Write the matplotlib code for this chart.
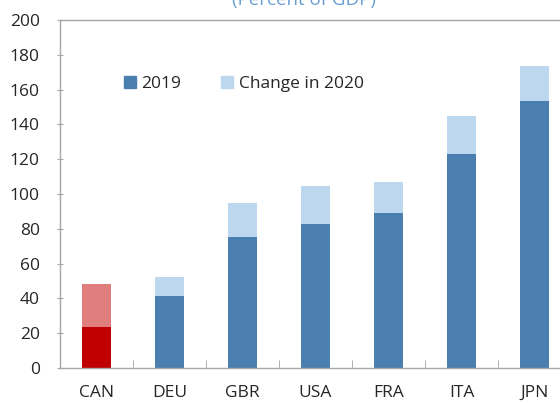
import matplotlib.pyplot as plt
import numpy as np

countries = ["CAN", "DEU", "GBR", "USA", "FRA", "ITA", "JPN"]
debt_2019 = [23.4, 41.4, 75.3, 82.8, 89.1, 123.0, 153.3]
total_2020 = [48.3, 52.1, 94.6, 104.6, 106.7, 144.8, 173.7]
change_2020 = [t - b for t, b in zip(total_2020, debt_2019)]
yticks = list(range(0, 201, 20))

plt.rcParams['font.family'] = ['Open Sans', 'DejaVu Sans']

dark = '#4A7FAF'
light = '#BDD7EE'
dark_colors = ['#C00000'] + [dark] * 6
light_colors = ['#E07E7E'] + [light] * 6

fig = plt.figure(figsize=(5.6, 4.03), dpi=100)
W, H = 560, 403
ax = fig.add_axes([60 / W, (H - 368) / H, 511 / W, 348 / H])

x = np.arange(len(countries))
ax.bar(x, debt_2019, width=0.41, color=dark_colors, label='2019', zorder=2)
ax.bar(x, change_2020, width=0.41, bottom=debt_2019, color=light_colors,
       label='Change in 2020', zorder=2)

ax.set_xlim(-0.5, len(countries) - 0.5)
ax.set_ylim(0, 200)
ax.set_yticks(yticks)
ax.set_xticks(x)
ax.set_xticklabels(countries)
ax.set_xticks(np.arange(0.5, len(countries) - 1), minor=True)

for s in ['left', 'top', 'bottom', 'right']:
    ax.spines[s].set_color('#A6A6A6')
    ax.spines[s].set_linewidth(1)

ax.tick_params(axis='y', direction='inout', length=5, color='#A6A6A6',
               labelsize=12.5, labelcolor='#262626', pad=12)
ax.tick_params(axis='x', which='major', length=0, labelsize=12.5,
               labelcolor='#262626', pad=12)
ax.tick_params(axis='x', which='minor', direction='in', length=6,
               color='#A6A6A6')

leg = ax.legend(loc='upper left', bbox_to_anchor=(0.095, 0.885), ncol=2,
                frameon=False, fontsize=12.5, handlelength=0.7,
                handleheight=0.7, handletextpad=0.3, columnspacing=2.3,
                labelcolor='#262626')
leg.legend_handles[0].set_color(dark)
leg.legend_handles[1].set_color(light)

fig.text(304 / W, (H - 5) / H, "(Percent of GDP)", ha='center', va='baseline',
         fontsize=13.5, color='#6A9FD4')

fig.savefig('out.png', dpi=100)
